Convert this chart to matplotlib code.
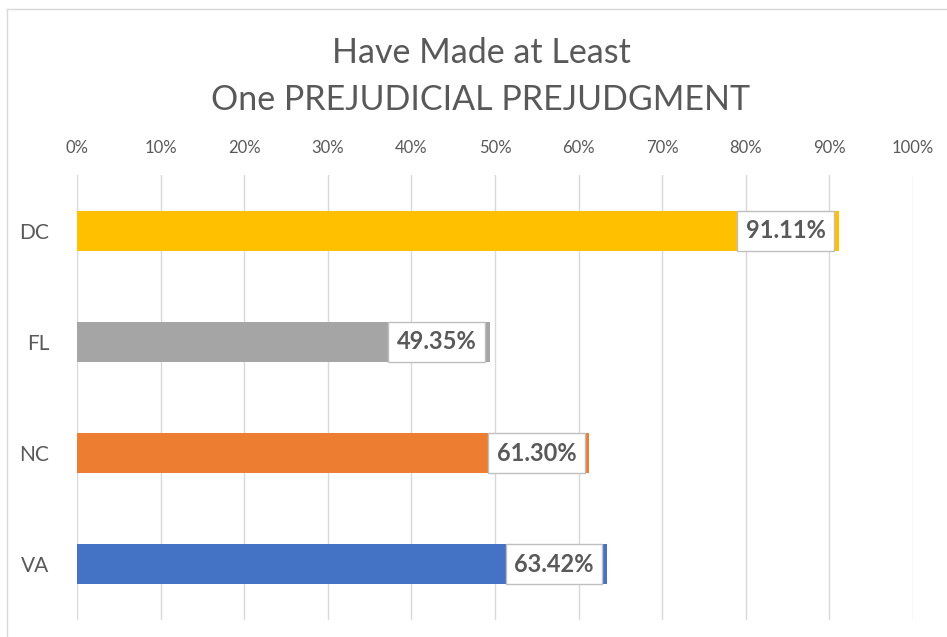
import matplotlib

matplotlib.use("Agg")
import matplotlib.pyplot as plt
from matplotlib.lines import Line2D

# Chart data
states = ["DC", "FL", "NC", "VA"]
shares = [91.11, 49.35, 61.30, 63.42]
colors = ["#FFC000", "#A5A5A5", "#ED7D31", "#4472C4"]
ticks = list(range(0, 101, 10))

plt.rcParams["font.family"] = ["Lato", "DejaVu Sans"]

fig = plt.figure(figsize=(9.47, 6.37), dpi=100, facecolor="white")
ax = fig.add_axes([77 / 947, 1 - 620 / 637, (913 - 77) / 947, (620 - 175) / 637])

ypos = list(range(len(states)))
ax.barh(ypos, shares, height=0.36, color=colors, zorder=3)
ax.set_ylim(len(states) - 0.5, -0.5)
ax.set_xlim(0, 100)

ax.set_xticks(ticks)
ax.set_xticklabels([f"{t}%" for t in ticks], color="#595959", fontsize=12)
ax.xaxis.tick_top()
ax.tick_params(axis="x", length=0, pad=14)
ax.set_yticks(ypos)
ax.set_yticklabels(states, color="#595959", fontsize=15)
ax.tick_params(axis="y", length=0, pad=20)
ax.grid(axis="x", color="#d9d9d9", linewidth=1, zorder=0)
for s in ax.spines.values():
    s.set_visible(False)

# Data labels: white boxes sitting just inside the bar end
for y, v in zip(ypos, shares):
    ax.annotate(f"{v:.2f}%", xy=(v, y), xytext=(-9.5, 0), textcoords="offset points",
                ha="right", va="center", fontsize=17, fontweight="bold", color="#595959",
                bbox=dict(boxstyle="square,pad=0.36", facecolor="white",
                          edgecolor="#bfbfbf", linewidth=1), zorder=4)

fig.text(481 / 947, 1 - 53 / 637, "Have Made at Least", ha="center", va="center",
         fontsize=24.5, color="#595959")
fig.text(481 / 947, 1 - 100 / 637, "One PREJUDICIAL PREJUDGMENT", ha="center",
         va="center", fontsize=24.5, color="#595959")

# chart-area border (left and top edges visible in the reference)
fig.add_artist(Line2D([7 / 947, 7 / 947], [0, 1 - 9 / 637], transform=fig.transFigure,
                      color="#d9d9d9", linewidth=1))
fig.add_artist(Line2D([7 / 947, 1], [1 - 9 / 637, 1 - 9 / 637], transform=fig.transFigure,
                      color="#d9d9d9", linewidth=1))

fig.savefig("out.png", dpi=100, facecolor="white")
